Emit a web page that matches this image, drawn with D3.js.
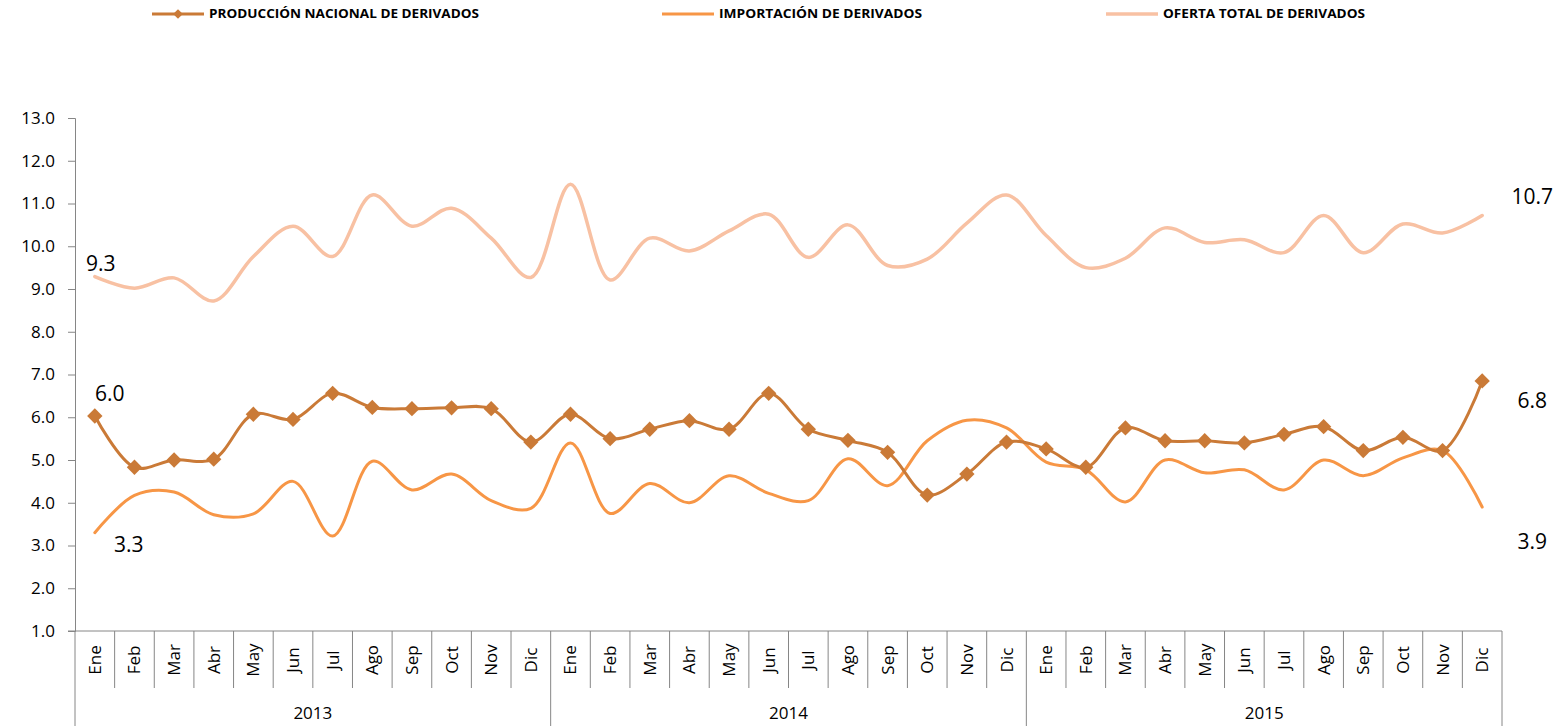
<!DOCTYPE html>
<html lang="es">
<head>
    <meta charset="UTF-8">
    <title>Oferta de derivados</title>
    <style>
        body { margin: 0; background: #fff; }
        text { font-family: "Open Sans", "Noto Sans", sans-serif; }
    </style>
</head>
<body>
    <svg id="chart" width="1568" height="726"></svg>
    <script src="https://d3js.org/d3.v7.min.js"></script>
    <script>
        // --- data ---
        var months = ["Ene", "Feb", "Mar", "Abr", "May", "Jun", "Jul", "Ago", "Sep", "Oct", "Nov", "Dic"];
        var years = ["2013", "2014", "2015"];

        var produccion = [6.03, 4.83, 5.0, 5.02, 6.07, 5.95, 6.56, 6.23, 6.2, 6.22, 6.2, 5.42,
                          6.07, 5.5, 5.72, 5.92, 5.72, 6.56, 5.72, 5.46, 5.18, 4.18, 4.67, 5.42,
                          5.26, 4.83, 5.75, 5.45, 5.45, 5.4, 5.6, 5.78, 5.22, 5.53, 5.22, 6.85];
        var importacion = [3.3, 4.17, 4.25, 3.72, 3.74, 4.5, 3.22, 4.97, 4.3, 4.67, 4.05, 3.87,
                           5.4, 3.75, 4.45, 4.0, 4.63, 4.22, 4.05, 5.03, 4.4, 5.45, 5.93, 5.75,
                           4.95, 4.77, 4.02, 5.0, 4.7, 4.77, 4.3, 5.0, 4.63, 5.05, 5.22, 3.9];
        var oferta = [9.29, 9.02, 9.26, 8.72, 9.76, 10.47, 9.76, 11.2, 10.47, 10.89, 10.19, 9.27,
                      11.45, 9.21, 10.19, 9.89, 10.36, 10.75, 9.74, 10.5, 9.55, 9.7, 10.54, 11.2,
                      10.25, 9.5, 9.72, 10.43, 10.09, 10.15, 9.85, 10.72, 9.85, 10.52, 10.31, 10.72];
        var yTicks = [1, 2, 3, 4, 5, 6, 7, 8, 9, 10, 11, 12, 13];

        var series = [
            { name: "OFERTA TOTAL DE DERIVADOS", values: oferta, color: "#F8C1A3", width: 3.5, marker: false },
            { name: "IMPORTACIÓN DE DERIVADOS", values: importacion, color: "#F79646", width: 3, marker: false },
            { name: "PRODUCCIÓN NACIONAL DE DERIVADOS", values: produccion, color: "#CA7A37", width: 3, marker: true }
        ];

        var margin = { top: 118, right: 66, bottom: 95, left: 75 },
            width = 1568 - margin.left - margin.right,
            height = 726 - margin.top - margin.bottom;

        var svg = d3.select("#chart");
        var g = svg.append("g")
            .attr("transform", "translate(" + margin.left + "," + margin.top + ")");

        var keys = [];
        years.forEach(function(yr) {
            months.forEach(function(m) { keys.push(yr + "-" + m); });
        });

        var x = d3.scaleBand().domain(keys).range([0, width]);
        var y = d3.scaleLinear().domain([1, 13]).range([height, 0]);
        var cx = function(i) { return x(keys[i]) + x.bandwidth() / 2; };

        // Y axis
        var yAxis = g.append("g")
            .call(d3.axisLeft(y).tickValues(yTicks).tickFormat(d3.format(".1f")).tickSize(7).tickPadding(13));
        yAxis.select(".domain").attr("stroke", "#868686");
        yAxis.selectAll(".tick line").attr("stroke", "#868686");
        yAxis.selectAll("text").style("font-size", "17px").attr("fill", "#000")
            .style("font-family", "'Open Sans', sans-serif");

        // category axis
        var xa = g.append("g").attr("transform", "translate(0," + height + ")");
        xa.append("line").attr("x1", -7).attr("x2", width).attr("stroke", "#868686");
        keys.forEach(function(k, i) {
            var isYearEdge = i % 12 === 0;
            xa.append("line")
                .attr("x1", x(k)).attr("x2", x(k))
                .attr("y1", 0).attr("y2", isYearEdge ? 95 : 57)
                .attr("stroke", "#868686");
            xa.append("text")
                .attr("transform", "translate(" + (cx(i) + 6) + ",29) rotate(-90)")
                .attr("text-anchor", "middle")
                .style("font-size", "17px")
                .text(months[i % 12]);
        });
        xa.append("line").attr("x1", width).attr("x2", width).attr("y1", 0).attr("y2", 95).attr("stroke", "#868686");
        years.forEach(function(yr, j) {
            var x0 = x(yr + "-Ene"), x1 = x(yr + "-Dic") + x.bandwidth();
            xa.append("text")
                .attr("x", (x0 + x1) / 2).attr("y", 88)
                .attr("text-anchor", "middle")
                .style("font-size", "17px")
                .text(yr);
        });

        // lines
        var line = d3.line()
            .x(function(d, i) { return cx(i); })
            .y(function(d) { return y(d); })
            .curve(d3.curveCatmullRom.alpha(0.5));

        series.forEach(function(s) {
            g.append("path")
                .datum(s.values)
                .attr("fill", "none")
                .attr("stroke", s.color)
                .attr("stroke-width", s.width)
                .attr("stroke-linecap", "round")
                .attr("d", line);
            if (s.marker) {
                g.selectAll(".mk")
                    .data(s.values)
                    .enter().append("path")
                    .attr("transform", function(d, i) { return "translate(" + cx(i) + "," + y(d) + ")"; })
                    .attr("d", d3.symbol().type(d3.symbolDiamond2).size(150))
                    .attr("fill", s.color);
            }
        });

        // data labels for first and last points
        var labels = [
            { v: oferta[0], i: 0, dx: 6, dy: -6 },
            { v: produccion[0], i: 0, dx: 15, dy: -15 },
            { v: importacion[0], i: 0, dx: 34, dy: 19 },
            { v: oferta[35], i: 35, dx: 50, dy: -11 },
            { v: produccion[35], i: 35, dx: 50, dy: 27 },
            { v: importacion[35], i: 35, dx: 50, dy: 42 }
        ];
        labels.forEach(function(l) {
            g.append("text")
                .attr("x", cx(l.i) + l.dx)
                .attr("y", y(l.v) + l.dy)
                .attr("text-anchor", "middle")
                .style("font-size", "21px")
                .text(d3.format(".1f")(l.v));
        });

        // legend
        var legendItems = [
            { s: series[2], x: 152, len: 52, tw: 270 },
            { s: series[1], x: 662, len: 52, tw: 203 },
            { s: series[0], x: 1106, len: 52, tw: 202 }
        ];
        var lg = svg.append("g");
        legendItems.forEach(function(it) {
            lg.append("line")
                .attr("x1", it.x).attr("x2", it.x + it.len)
                .attr("y1", 14).attr("y2", 14)
                .attr("stroke", it.s.color).attr("stroke-width", it.s.width);
            if (it.s.marker) {
                lg.append("path")
                    .attr("transform", "translate(" + (it.x + it.len / 2) + ",14)")
                    .attr("d", d3.symbol().type(d3.symbolDiamond2).size(60))
                    .attr("fill", it.s.color);
            }
            lg.append("text")
                .attr("x", it.x + it.len + 5).attr("y", 18)
                .attr("textLength", it.tw).attr("lengthAdjust", "spacingAndGlyphs")
                .style("font-size", "13px").style("font-weight", "bold")
                .text(it.s.name);
        });
    </script>
</body>
</html>
